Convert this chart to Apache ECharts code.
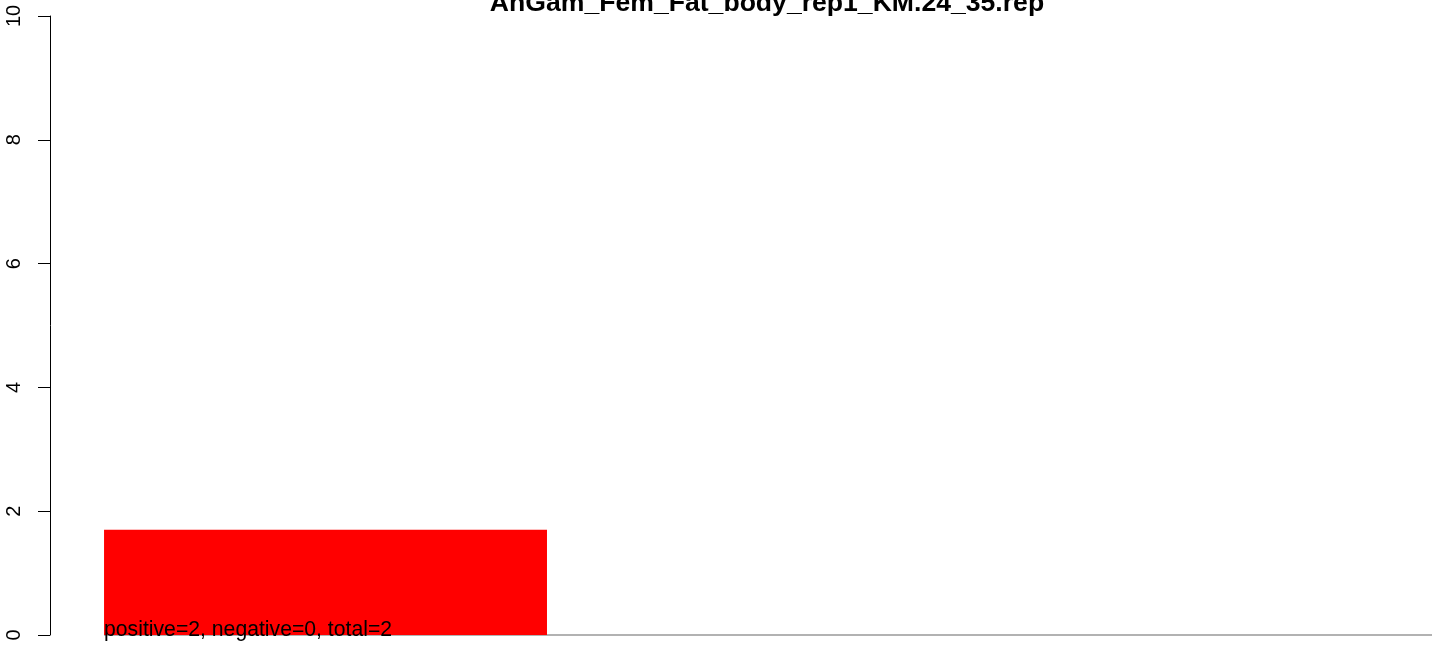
<!DOCTYPE html>
<html>
<head>
<meta charset="utf-8">
<style>
  html, body { margin: 0; padding: 0; background: #ffffff; }
  #chart { width: 1444px; height: 647px; }
</style>
<script src="https://cdn.jsdelivr.net/npm/echarts@6/dist/echarts.min.js"></script>
</head>
<body>
<div id="chart"></div>
<script>
const chartTitle = 'AnGam_Fem_Fat_body_rep1_KM.24_35.rep';
const barStarts = [0.122];
const barEnds = [1.122];
const barValues = [1.7];
const xLimits = [0, 3.12];
const yTicks = [0, 2, 4, 6, 8, 10];
const countNames = ['positive', 'negative', 'total'];
const countValues = [2, 0, 2];

const FONT = '"Liberation Sans", Arial, Helvetica, sans-serif';
const countText = countNames.map((n, i) => n + '=' + countValues[i]).join(', ');

const chart = echarts.init(document.getElementById('chart'), null, { renderer: 'canvas' });

chart.setOption({
  animation: false,
  backgroundColor: '#ffffff',
  grid: { left: 50, right: 12, top: 16, bottom: 12, containLabel: false },
  graphic: [{
    type: 'text',
    x: 767,
    y: 4,
    style: {
      text: chartTitle,
      font: 'bold 26.6px ' + FONT,
      fill: '#000000',
      align: 'center',
      verticalAlign: 'middle'
    }
  }],
  xAxis: {
    type: 'value',
    min: xLimits[0],
    max: xLimits[1],
    show: false
  },
  yAxis: {
    type: 'value',
    min: yTicks[0],
    max: yTicks[yTicks.length - 1],
    interval: yTicks[1] - yTicks[0],
    axisLine: { show: true, lineStyle: { color: '#000000', width: 1 } },
    axisTick: { show: true, length: 12, lineStyle: { color: '#000000', width: 1 } },
    axisLabel: {
      rotate: 90,
      margin: 26,
      fontSize: 20,
      fontFamily: FONT,
      color: '#000000'
    },
    splitLine: { show: false }
  },
  series: [{
    type: 'custom',
    clip: false,
    data: barValues.map((v, i) => [barStarts[i], barEnds[i], v]),
    renderItem: function (params, api) {
      const s = api.value(0), e = api.value(1), v = api.value(2);
      const topLeft = api.coord([s, v]);
      const botRight = api.coord([e, 0]);
      const lineEnd = api.coord([xLimits[1], 0]);
      return {
        type: 'group',
        children: [
          {
            type: 'line',
            shape: { x1: topLeft[0], y1: botRight[1], x2: lineEnd[0], y2: botRight[1] },
            style: { stroke: '#999999', lineWidth: 1.5 }
          },
          {
            type: 'rect',
            shape: { x: topLeft[0], y: topLeft[1], width: botRight[0] - topLeft[0], height: botRight[1] - topLeft[1] },
            style: { fill: '#ff0000' }
          },
          {
            type: 'text',
            x: topLeft[0],
            y: botRight[1] - 5,
            style: {
              text: countText,
              font: '21.2px ' + FONT,
              fill: '#000000',
              align: 'left',
              verticalAlign: 'middle'
            }
          }
        ]
      };
    }
  }]
});
</script>
</body>
</html>
